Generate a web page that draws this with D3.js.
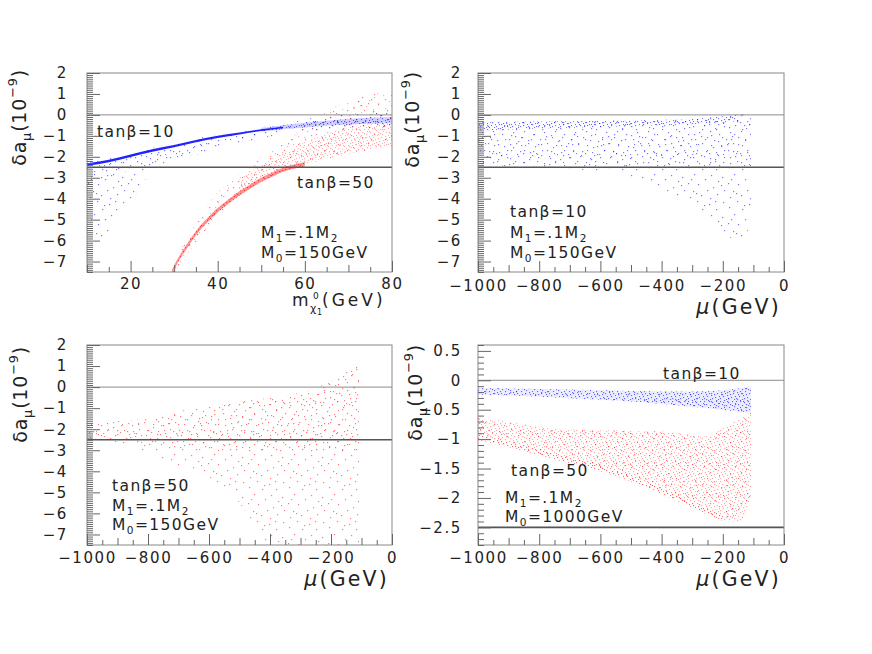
<!DOCTYPE html>
<html><head><meta charset="utf-8">
<script src="https://cdn.jsdelivr.net/npm/d3@7"></script>
<style>
html,body{margin:0;padding:0;background:#fff;}
svg{display:block;}
text{font-family:"DejaVu Sans",sans-serif;fill:#222;}
</style></head><body>
<svg id="chart" width="872" height="654"></svg>
<script>
// ---------------- tick labels ----------------
const yTicksWide   = [2, 1, 0, -1, -2, -3, -4, -5, -6, -7];
const yTicksNarrow = [0.5, 0, -0.5, -1, -1.5, -2, -2.5];
const massTicks    = [20, 40, 60, 80];
const muTicks      = [-1000, -800, -600, -400, -200, 0];
const refLines     = [0, -2.5];

// ---------------- panel 1 : tanβ=10 (blue) vs neutralino mass ----------------
const p1BlueMass   = [10, 11.5, 13, 15, 17, 19.5, 22, 24, 27, 30, 35, 40, 45, 50, 55, 60, 65, 70, 75, 80];
const p1BlueUpper  = [-2.25, -2.2, -2.15, -2.05, -1.95, -1.85, -1.72, -1.62, -1.48, -1.35, -1.12, -0.92, -0.75, -0.55, -0.4, -0.2, -0.05, 0.05, 0.15, 0.2];
const p1BlueLower  = [-4.4, -5.5, -5.9, -5.6, -4.8, -4.2, -3.55, -2.9, -2.45, -2.25, -1.9, -1.6, -1.35, -1.15, -0.95, -0.8, -0.72, -0.66, -0.62, -0.6];
const p1BlueMidMass  = [10, 15, 20, 25, 30, 35, 40, 45, 50, 55, 60, 65, 70, 75, 80];
const p1BlueMidUpper = [-2.3, -2.15, -1.9, -1.65, -1.45, -1.2, -1.0, -0.83, -0.62, -0.48, -0.35, -0.2, -0.1, 0.0, 0.1];
const p1BlueMidLower = [-3.2, -3.1, -2.6, -2.45, -2.2, -1.85, -1.55, -1.3, -1.1, -0.92, -0.78, -0.7, -0.64, -0.6, -0.58];
const p1BlueCoreMass  = [10, 15, 20, 25, 30, 35, 40, 45, 50, 55];
const p1BlueCoreUpper = [-2.31, -2.14, -1.89, -1.64, -1.44, -1.2, -1.0, -0.84, -0.68, -0.56];
const p1BlueCoreLower = [-2.43, -2.26, -2.01, -1.76, -1.55, -1.31, -1.1, -0.93, -0.77, -0.64];
const p1BlueBandMass  = [50, 55, 60, 65, 70, 75, 80];
const p1BlueBandUpper = [-0.62, -0.5, -0.38, -0.28, -0.2, -0.14, -0.1];
const p1BlueBandLower = [-0.8, -0.68, -0.6, -0.52, -0.46, -0.42, -0.4];

// ---------------- panel 1 : tanβ=50 (red) ----------------
const p1RedMass   = [29, 31, 33, 35, 38, 40, 43, 45, 48, 50, 53, 55, 58, 60, 63, 65, 68, 70, 73, 75, 78, 80];
const p1RedUpper  = [-7.5, -6.6, -5.9, -5.2, -4.2, -3.7, -3.1, -2.8, -2.3, -2.0, -1.6, -1.3, -0.9, -0.6, -0.1, 0.2, 0.5, 0.7, 0.9, 1.0, 1.05, 1.05];
const p1RedLower  = [-7.6, -7.6, -6.7, -6.1, -5.3, -4.85, -4.2, -3.85, -3.4, -3.15, -2.85, -2.65, -2.45, -2.35, -2.2, -2.1, -1.95, -1.85, -1.75, -1.65, -1.55, -1.5];
const p1RedMidMass  = [45, 50, 55, 60, 65, 70, 75, 80];
const p1RedMidUpper = [-3.0, -2.4, -1.8, -1.3, -0.9, -0.6, -0.45, -0.4];
const p1RedMidLower = [-3.75, -3.1, -2.6, -2.3, -2.05, -1.85, -1.65, -1.5];
const p1RedCoreMass  = [29.5, 31, 33, 35, 38, 40, 43, 45, 48, 50, 53, 55, 58, 60];
const p1RedCoreUpper = [-7.4, -6.8, -6.15, -5.55, -4.85, -4.45, -3.95, -3.65, -3.25, -3.0, -2.7, -2.52, -2.35, -2.25];
const p1RedCoreLower = [-7.6, -7.0, -6.35, -5.75, -5.05, -4.65, -4.15, -3.85, -3.45, -3.2, -2.9, -2.72, -2.55, -2.45];

// ---------------- panel 2 : tanβ=10, M0=150GeV (blue) vs μ ----------------
const p2Mu       = [-1000, -900, -800, -700, -600, -500, -400, -300, -250, -200, -150, -120, -108];
const p2Upper    = [-0.35, -0.33, -0.31, -0.3, -0.28, -0.26, -0.23, -0.18, -0.13, -0.05, 0.05, 0.15, 0.2];
const p2Lower    = [-2.45, -2.5, -2.55, -2.6, -2.7, -2.95, -3.5, -4.4, -5.0, -5.6, -6.0, -5.6, -4.5];
const p2MidLower = [-2.4, -2.4, -2.4, -2.45, -2.45, -2.5, -2.5, -2.5, -2.5, -2.5, -2.5, -2.5, -2.5];
const p2CoreMu    = [-1000, -800, -600, -400, -300, -200, -150];
const p2CoreUpper = [-0.36, -0.32, -0.29, -0.24, -0.19, -0.06, 0.02];
const p2CoreLower = [-0.75, -0.65, -0.58, -0.5, -0.45, -0.35, -0.3];

// ---------------- panel 3 : tanβ=50, M0=150GeV (red) ----------------
const p3Mu       = [-1000, -900, -800, -700, -600, -500, -450, -400, -350, -300, -250, -200, -150, -120, -108];
const p3Upper    = [-1.75, -1.62, -1.45, -1.15, -0.9, -0.7, -0.6, -0.5, -0.4, -0.27, -0.05, 0.3, 0.7, 0.95, 1.05];
const p3Lower    = [-2.45, -2.65, -3.1, -3.75, -4.3, -5.5, -6.6, -7.6, -7.6, -7.6, -7.6, -7.6, -7.6, -7.6, -7.6];
const p3MidLower = [-2.4, -2.5, -2.7, -2.9, -3.0, -3.1, -3.1, -3.1, -3.1, -3.1, -3.1, -3.1, -3.1, -3.1, -3.1];

// ---------------- panel 4 : M0=1000GeV ----------------
const p4BlueMu    = [-1000, -800, -600, -500, -400, -300, -200, -150, -108];
const p4BlueUpper = [-0.13, -0.15, -0.17, -0.18, -0.19, -0.19, -0.17, -0.14, -0.1];
const p4BlueLower = [-0.24, -0.28, -0.33, -0.36, -0.4, -0.45, -0.5, -0.53, -0.55];
const p4RedMu     = [-1000, -850, -750, -600, -500, -400, -300, -250, -200, -150, -108];
const p4RedUpper  = [-0.63, -0.75, -0.82, -0.85, -0.86, -0.87, -0.93, -0.95, -0.82, -0.68, -0.52];
const p4RedLower  = [-1.0, -1.18, -1.33, -1.53, -1.7, -1.92, -2.15, -2.27, -2.37, -2.4, -2.0];
const p4RedEdgeMu    = [-1000, -850, -750, -600, -500, -400, -300, -250, -200];
const p4RedEdgeUpper = [-0.93, -1.1, -1.25, -1.45, -1.62, -1.84, -2.07, -2.19, -2.29];
const p4RedEdgeLower = [-1.02, -1.2, -1.35, -1.55, -1.72, -1.94, -2.17, -2.29, -2.39];

// ---------------- drawing ----------------
const svg = d3.select("#chart");
const defs = svg.append("defs");

// dotted textures (style only: fixed, hand-placed dot offsets inside one tile)
const TEX = {
  sparse: {tile: 40, dots: [[3,2],[17,1],[29,4],[36,9],[9,7],[22,9],[14,14],[31,15],[2,17],[25,19],[38,21],[8,23],[18,24],[33,27],[4,30],[13,31],[27,30],[21,35],[37,34],[10,37],[30,38],[1,25],[24,5],[11,19],[35,1],[16,33]]},
  extra:  {tile: 31, dots: [[2,4],[11,2],[22,1],[28,7],[6,10],[17,8],[25,13],[1,16],[13,15],[20,19],[29,21],[8,22],[15,26],[24,27],[3,28],[10,30],[19,12],[27,29],[5,0],[14,20]]},
  dense:  {tile: 16, dots: [[0,1],[4,0],[8,2],[12,1],[2,4],[6,5],[10,4],[14,6],[1,8],[5,9],[9,7],[13,9],[3,12],[7,11],[11,13],[15,12],[0,14],[6,15],[10,10],[14,15],[4,7],[8,14],[12,5],[2,10],[15,3],[7,1]]}
};
const COL = {blue: "#0a0aff", red: "#ff0a0a"};
function makePattern(id, color, tex, size, op) {
  const p = defs.append("pattern").attr("id", id)
    .attr("patternUnits", "userSpaceOnUse")
    .attr("width", tex.tile).attr("height", tex.tile);
  p.selectAll("rect").data(tex.dots).join("rect")
    .attr("x", d => d[0]).attr("y", d => d[1])
    .attr("width", size).attr("height", size)
    .attr("fill", color).attr("fill-opacity", op);
}
["blue", "red"].forEach(c => {
  makePattern(c + "S", COL[c], TEX.sparse, 1.2, 0.55);
  makePattern(c + "M", COL[c], TEX.extra, 1.2, 0.55);
  makePattern(c + "D", COL[c], TEX.dense, 1.1, 0.6);
});

function rows(xs, hi, lo) { return xs.map((x, i) => ({x, hi: hi[i], lo: lo[i]})); }

const panels = [
  {x0: 87, y0: 73, w: 305, h: 199, xd: [10, 80], yd: [-7.5, 2], xMajor: massTicks, yMajor: yTicksWide,
   yPad: 19, xPad: 6, kind: "mass",
   layers: [
     {d: rows(p1BlueMass, p1BlueUpper, p1BlueLower), fill: "url(#blueS)"},
     {d: rows(p1BlueMidMass, p1BlueMidUpper, p1BlueMidLower), fill: "url(#blueM)"},
     {d: rows(p1RedMass, p1RedUpper, p1RedLower), fill: "url(#redS)"},
     {d: rows(p1RedMass, p1RedUpper, p1RedLower), fill: "url(#redM)", op: 0.6},
     {d: rows(p1RedMidMass, p1RedMidUpper, p1RedMidLower), fill: "url(#redD)", op: 0.55},
     {d: rows(p1BlueBandMass, p1BlueBandUpper, p1BlueBandLower), fill: "url(#blueD)"},
     {d: rows(p1BlueBandMass, p1BlueBandUpper, p1BlueBandLower), fill: COL.blue, op: 0.2},
     {d: rows(p1BlueCoreMass, p1BlueCoreUpper, p1BlueCoreLower), fill: COL.blue, op: 0.9},
     {d: rows(p1RedCoreMass, p1RedCoreUpper, p1RedCoreLower), fill: "url(#redD)"},
     {d: rows(p1RedCoreMass, p1RedCoreUpper, p1RedCoreLower), fill: COL.red, op: 0.45}
   ]},
  {x0: 478, y0: 73, w: 306, h: 199, xd: [-1000, 0], yd: [-7.5, 2], xMajor: muTicks, yMajor: yTicksWide,
   yPad: 16, xPad: 8, kind: "mu",
   layers: [
     {d: rows(p2Mu, p2Upper, p2Lower), fill: "url(#blueS)"},
     {d: rows(p2Mu, p2Upper, p2MidLower), fill: "url(#blueM)"},
     {d: rows(p2CoreMu, p2CoreUpper, p2CoreLower), fill: "url(#blueD)"}
   ]},
  {x0: 87, y0: 345, w: 305, h: 200, xd: [-1000, 0], yd: [-7.5, 2], xMajor: muTicks, yMajor: yTicksWide,
   yPad: 19, xPad: 7, kind: "mu",
   layers: [
     {d: rows(p3Mu, p3Upper, p3Lower), fill: "url(#redS)"},
     {d: rows(p3Mu, p3Upper, p3MidLower), fill: "url(#redM)"}
   ]},
  {x0: 478, y0: 345, w: 306, h: 200, xd: [-1000, 0], yd: [-2.8, 0.6], xMajor: muTicks, yMajor: yTicksNarrow,
   yPad: 16, xPad: 7, kind: "mu",
   layers: [
     {d: rows(p4BlueMu, p4BlueUpper, p4BlueLower), fill: "url(#blueD)"},
     {d: rows(p4BlueMu, p4BlueUpper, p4BlueLower), fill: "url(#blueM)"},
     {d: rows(p4BlueMu, p4BlueUpper, p4BlueLower), fill: COL.blue, op: 0.08},
     {d: rows(p4RedMu, p4RedUpper, p4RedLower), fill: "url(#redD)", op: 0.6},
     {d: rows(p4RedMu, p4RedUpper, p4RedLower), fill: "url(#redM)"},
     {d: rows(p4RedEdgeMu, p4RedEdgeUpper, p4RedEdgeLower), fill: "url(#redD)", op: 0.7}
   ]}
];

function styleAxis(g, fs) {
  g.select(".domain").remove();
  g.selectAll("line").attr("stroke", "#666").attr("stroke-width", 1);
  g.selectAll("text").attr("font-size", fs).attr("font-family", "DejaVu Sans")
    .attr("fill", "#222").attr("letter-spacing", 1.6);
}

panels.forEach((cfg, i) => {
  const x = d3.scaleLinear().domain(cfg.xd).range([cfg.x0, cfg.x0 + cfg.w]);
  const y = d3.scaleLinear().domain(cfg.yd).range([cfg.y0 + cfg.h, cfg.y0]);
  defs.append("clipPath").attr("id", "clip" + i).append("rect")
    .attr("x", cfg.x0).attr("y", cfg.y0).attr("width", cfg.w).attr("height", cfg.h);

  const area = d3.area().x(d => x(d.x)).y0(d => y(d.lo)).y1(d => y(d.hi)).curve(d3.curveMonotoneX);
  const g = svg.append("g").attr("clip-path", `url(#clip${i})`);
  cfg.layers.forEach(l => {
    const p = g.append("path").datum(l.d).attr("d", area).attr("fill", l.fill);
    if (l.op != null) p.attr("opacity", l.op);
  });

  // reference lines
  g.selectAll("line.ref").data(refLines).join("line").attr("class", "ref")
    .attr("x1", cfg.x0).attr("x2", cfg.x0 + cfg.w)
    .attr("y1", d => y(d)).attr("y2", d => y(d))
    .attr("stroke", d => d === 0 ? "#8c8c8c" : "#555")
    .attr("stroke-width", d => d === 0 ? 1 : 1.6);

  // frame
  svg.append("rect").attr("x", cfg.x0).attr("y", cfg.y0).attr("width", cfg.w).attr("height", cfg.h)
    .attr("fill", "none").attr("stroke", "#888").attr("stroke-width", 1);

  // y axis (ticks inside)
  const yMinor = d3.range(Math.round(cfg.yd[0] * 10), Math.round(cfg.yd[1] * 10) + 1).map(k => k / 10)
    .filter(v => !cfg.yMajor.some(m => Math.abs(m - v) < 1e-6));
  const yMin = svg.append("g").attr("transform", `translate(${cfg.x0},0)`)
    .call(d3.axisLeft(y).tickValues(yMinor).tickSize(-6).tickFormat(() => ""));
  styleAxis(yMin, 15);
  const yMaj = svg.append("g").attr("transform", `translate(${cfg.x0},0)`)
    .call(d3.axisLeft(y).tickValues(cfg.yMajor).tickSize(-13).tickPadding(cfg.yPad).tickFormat(d3.format("~g")));
  styleAxis(yMaj, 15);

  // x axis (ticks inside)
  let xMinorS, xMinorM;
  if (cfg.kind === "mass") {
    xMinorS = d3.range(15, 80, 10);
    xMinorM = [10, 30, 50, 70];
  } else {
    xMinorS = d3.range(-950, 0, 100);
    xMinorM = d3.range(-900, 0, 200);
  }
  const xs1 = svg.append("g").attr("transform", `translate(0,${cfg.y0 + cfg.h})`)
    .call(d3.axisBottom(x).tickValues(xMinorS).tickSize(-5).tickFormat(() => ""));
  styleAxis(xs1, 15);
  const xs2 = svg.append("g").attr("transform", `translate(0,${cfg.y0 + cfg.h})`)
    .call(d3.axisBottom(x).tickValues(xMinorM).tickSize(-7).tickFormat(() => ""));
  styleAxis(xs2, 15);
  const xMaj = svg.append("g").attr("transform", `translate(0,${cfg.y0 + cfg.h})`)
    .call(d3.axisBottom(x).tickValues(cfg.xMajor).tickSize(-11).tickPadding(cfg.xPad).tickFormat(d3.format("~g")));
  styleAxis(xMaj, 15);
});

// ---------------- text helpers ----------------
function rich(sel, parts, fs) {
  let shift = 0;
  parts.forEach(p => {
    const [txt, kind, style] = p;
    let s = 0, size = fs;
    if (kind === "sub") { s = 0.28 * fs; size = 0.68 * fs; }
    if (kind === "sup") { s = -0.45 * fs; size = 0.68 * fs; }
    const t = sel.append("tspan").text(txt).attr("font-size", size).attr("dy", s - shift);
    if (style === "it") t.attr("font-style", "italic");
    shift = s;
  });
}
function label(x, y, parts, opts) {
  const o = Object.assign({fs: 15.5, color: "#222", ls: 1.4}, opts || {});
  const t = svg.append("text").attr("x", x).attr("y", y).attr("fill", o.color)
    .attr("font-size", o.fs).attr("letter-spacing", o.ls);
  rich(t, parts, o.fs);
  return t;
}

// annotations
const tan10 = [["tanβ=10"]], tan50 = [["tanβ=50"]];
const m1 = [["M"], ["1", "sub"], ["=.1M"], ["2", "sub"]];
const m0a = [["M"], ["0", "sub"], ["=150GeV"]];
const m0b = [["M"], ["0", "sub"], ["=1000GeV"]];
label(97, 137, tan10);
label(297, 188, tan50, {color: "#ff2020"});
label(261, 238, m1);
label(261, 258, m0a);
label(510, 217, tan10);
label(510, 238, m1);
label(510, 258, m0a);
label(112, 491, tan50);
label(112, 511, m1);
label(112, 530, m0a);
label(663, 379, tan10);
label(511, 476, tan50);
label(505, 503, m1);
label(505, 522, m0b);

// y titles
const yTitle = [["δa"], ["μ", "sub"], ["(10"], ["−9", "sup"], [")"]];
[[26, 69], [419, 71], [27, 346], [422, 344]].forEach(([bx, top]) => {
  const t = svg.append("text").attr("transform", `translate(${bx},${top}) rotate(-90)`)
    .attr("text-anchor", "end").attr("font-size", 19).attr("letter-spacing", 0.8);
  rich(t, yTitle, 19);
});

// x titles
const muTitle = [["μ", null, "it"], ["(GeV)"]];
[[781, 314], [389, 586], [781, 586]].forEach(([rx, by]) => {
  const t = svg.append("text").attr("x", rx).attr("y", by).attr("text-anchor", "end")
    .attr("font-size", 20.5).attr("letter-spacing", 2.2);
  rich(t, muTitle, 20.5);
});
svg.append("text").attr("x", 292).attr("y", 306).attr("font-size", 17).attr("letter-spacing", 0.5).text("m");
svg.append("text").attr("x", 310).attr("y", 312).attr("font-size", 11).text("χ");
svg.append("text").attr("x", 317).attr("y", 315).attr("font-size", 8).text("1");
svg.append("text").attr("x", 313).attr("y", 299).attr("font-size", 9).text("0");
svg.append("text").attr("x", 322).attr("y", 306).attr("font-size", 17).attr("letter-spacing", 3).text("(GeV)");
</script>
</body></html>
